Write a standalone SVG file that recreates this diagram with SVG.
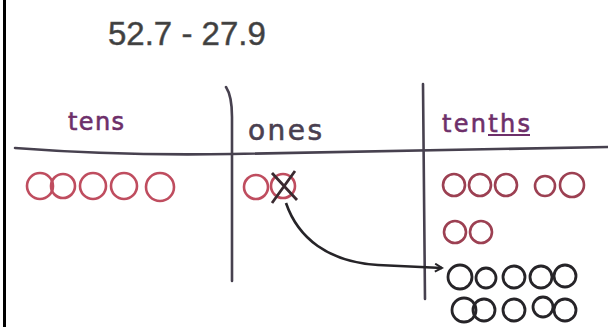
<svg xmlns="http://www.w3.org/2000/svg" width="608" height="327" viewBox="0 0 608 327">
<style>
.hand{font-family:"DejaVu Sans",sans-serif;stroke-width:0.6;}
.line{fill:none;stroke:#47414f;stroke-width:2.6;stroke-linecap:round;}
.red{fill:none;stroke:#bf4d5f;stroke-width:2.6;}
.dred{fill:none;stroke:#9c4052;stroke-width:2.6;}
.blk{fill:none;stroke:#262428;stroke-width:2.8;}
</style>
<defs>
<marker id="ah" markerWidth="10" markerHeight="10" refX="8" refY="5" orient="auto" markerUnits="userSpaceOnUse">
<path d="M1 1 L8 5 L1 9" fill="none" stroke="#262428" stroke-width="2"/>
</marker>
</defs>
<rect x="0" y="0" width="608" height="327" fill="#ffffff"/>
<rect x="3" y="0" width="3" height="327" fill="#000000"/>
<g id="title">
<text x="108" y="45" font-family="Liberation Sans, Arial, sans-serif" font-size="33" fill="#3f3f3f" stroke="#555" stroke-width="0.5">52.7 - 27.9</text>
</g>
<g id="grid">
<path class="line" d="M15 148 Q120 156 232 154 T608 147"/>
<path class="line" d="M226 87 Q232 96 232 117 L232 281"/>
<path class="line" d="M423 84 L425 299"/>
</g>
<g id="tens">
<text class="hand" x="68" y="130" font-size="24" fill="#6e2f6a" stroke="#6e2f6a" textLength="56">tens</text>
<circle class="red" cx="40" cy="186" r="13"/>
<circle class="red" cx="63" cy="186" r="12"/>
<circle class="red" cx="93" cy="186" r="13"/>
<circle class="red" cx="124" cy="186" r="13"/>
<circle class="red" cx="160" cy="187" r="14"/>
</g>
<g id="ones">
<text class="hand" x="248" y="140" font-size="28" fill="#4a4050" stroke="#4a4050" textLength="74">ones</text>
<circle class="red" cx="256" cy="187" r="12"/>
<circle class="red" cx="283" cy="186" r="12"/>
<path d="M272 173 L297 200 M295 171 L272 203" fill="none" stroke="#3a2a30" stroke-width="2.8"/>
</g>
<g id="tenths">
<text class="hand" x="442" y="132" font-size="24" fill="#6e2f6a" stroke="#6e2f6a" textLength="88">tenths</text>
<path d="M488 135 L530 135" fill="none" stroke="#6e2f6a" stroke-width="2"/>
<circle class="dred" cx="454" cy="185" r="11"/>
<circle class="dred" cx="480" cy="185" r="11"/>
<circle class="dred" cx="506" cy="185" r="11"/>
<circle class="dred" cx="545" cy="186" r="10"/>
<circle class="dred" cx="572" cy="185" r="12"/>
<circle class="dred" cx="455" cy="232" r="11"/>
<circle class="dred" cx="481" cy="232" r="11"/>
<circle class="blk" cx="460" cy="277" r="12"/>
<circle class="blk" cx="486" cy="278" r="10"/>
<circle class="blk" cx="514" cy="277" r="11"/>
<circle class="blk" cx="541" cy="277" r="11"/>
<circle class="blk" cx="565" cy="276" r="11"/>
<circle class="blk" cx="464" cy="310" r="12"/>
<circle class="blk" cx="484" cy="310" r="11"/>
<circle class="blk" cx="514" cy="310" r="11"/>
<circle class="blk" cx="543" cy="307" r="10"/>
<circle class="blk" cx="565" cy="310" r="11"/>
</g>
<g id="connectors">
<path d="M286 203 C298 238 328 262 378 265 L442 268" fill="none" stroke="#262428" stroke-width="2.6" marker-end="url(#ah)"/>
</g>
</svg>
